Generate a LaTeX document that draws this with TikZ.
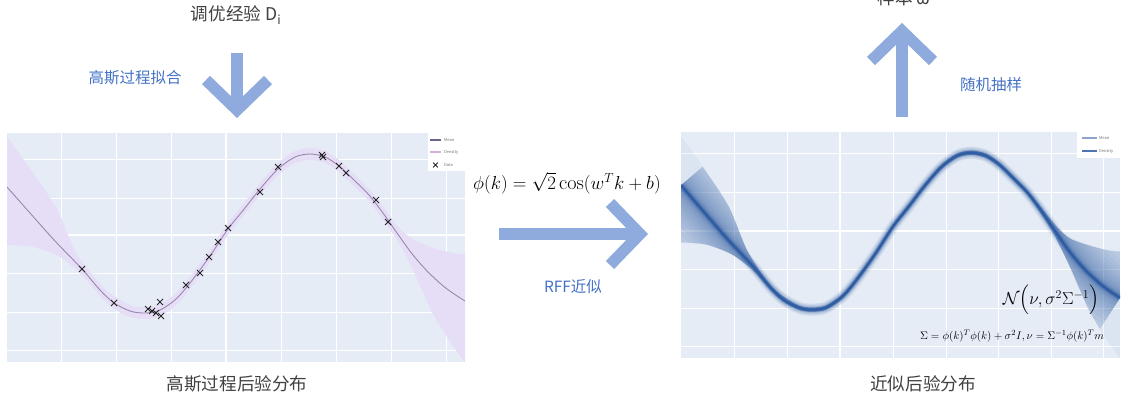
\documentclass[tikz,border=0pt]{standalone}
\usepackage{amsmath}
\usepackage{amssymb}
\usepackage{fontspec}
\newfontfamily\cjk{Noto Sans CJK SC}
\usetikzlibrary{arrows.meta,shapes.misc}
\definecolor{plotbg}{RGB}{229,236,246}
\definecolor{bandlav}{RGB}{230,221,246}
\definecolor{meanlav}{RGB}{150,138,172}
\definecolor{rffblue}{RGB}{46,92,163}
\definecolor{arrowblue}{RGB}{143,170,220}
\definecolor{labelblue}{RGB}{68,114,196}
\definecolor{titlegray}{RGB}{64,64,64}

\newcommand\gpmean{plot[smooth] coordinates {(0,54) (23,80) (48,108) (75,136) (93,157) (107,170) (123,178) (136,180) (151,178) (168,167) (183,150) (203,123) (221,96) (238,75) (253,56) (271,36) (288,24) (303,21) (318,24) (332,33) (348,48) (362,62) (376,80) (390,100) (406,122) (422,140) (440,156) (458,168)}}
\newcommand\gpband{plot[smooth] coordinates {(0,4) (26,40) (50,76) (68,118) (85,141) (100,158) (123,172) (136,174) (151,172) (168,161) (183,144) (203,117) (221,90) (238,69) (253,50) (271,30) (288,18) (303,15) (318,18) (332,27) (348,42) (362,56) (376,73) (392,95) (406,106) (426,115) (446,120) (458,121)} -- plot[smooth] coordinates {(458,229) (446,213) (426,181) (406,137) (390,107) (376,87) (362,68) (348,54) (332,39) (318,30) (303,27) (288,30) (271,42) (253,62) (238,81) (221,102) (203,129) (183,156) (168,173) (151,184) (136,186) (123,184) (107,176) (93,163) (75,142) (53,124) (26,114) (0,112)} -- cycle}
\newcommand\rffband{plot[smooth] coordinates {(0,4) (26,40) (50,76) (68,118) (85,145) (100,162) (123,176) (136,178) (151,176) (168,165) (183,148) (203,121) (221,94) (238,73) (253,54) (271,34) (288,22) (303,19) (318,22) (332,31) (348,46) (362,60) (376,77) (392,96) (406,108) (426,115) (446,120) (458,121)} -- plot[smooth] coordinates {(458,229) (446,213) (426,181) (406,137) (390,105) (376,83) (362,64) (348,50) (332,35) (318,26) (303,23) (288,26) (271,38) (253,58) (238,77) (221,98) (203,125) (183,152) (168,169) (151,180) (136,182) (123,180) (107,172) (93,160) (75,140) (53,124) (26,114) (0,112)} -- cycle}

\begin{document}
\begin{tikzpicture}[x=1pt,y=-1pt,
    graytext/.style={text=titlegray, font=\cjk\fontsize{17.6}{20}\selectfont},
    bluetext/.style={text=labelblue, font=\cjk\fontsize{15.5}{18}\selectfont},
    legtext/.style={text=black!55, font=\cjk\fontsize{4}{5}\selectfont, anchor=west, inner sep=0pt},
    gridline/.style={white, line width=0.8pt},
    zeroline/.style={white, line width=1.6pt},
    datamark/.style={cross out, draw=black!85, line width=1pt, minimum size=5pt, inner sep=0pt},
    bigarrow/.style={draw=arrowblue, line width=11.5pt, -{Straight Barb[length=30pt,width=62pt]}}]
    \useasboundingbox (0,0) rectangle (1128,398);

    % left: GP posterior
    \begin{scope}[shift={(7,133)}]
        \fill[plotbg] (0,0) rectangle (458,229);
        \foreach \gx in {54,109,164,274,329,384,439} \draw[gridline] (\gx,0) -- (\gx,229);
        \foreach \gy in {26,65,140,179,217} \draw[gridline] (0,\gy) -- (458,\gy);
        \draw[zeroline] (219,0) -- (219,229);
        \draw[zeroline] (0,102) -- (458,102);
        \begin{scope}
            \clip (0,0) rectangle (458,229);
            \fill[bandlav] \gpband;
            \draw[meanlav, line width=0.9pt] \gpmean;
        \end{scope}
        \foreach \x/\y [count=\i] in {75/136, 107/170, 141/176, 145/178, 149/180, 154/183, 153/169, 179/152, 193/140, 202/124, 211/109, 221/95, 253/59, 271/34, 315/22, 316/24, 332/33, 339/40, 369/67, 381/89}
            \node[datamark] (d\i) at (\x,\y) {};
        \fill[white] (421,0) rectangle (458,38);
        \draw[black!75!blue!60, line width=1.2pt] (423,7) -- (434,7);
        \draw[bandlav!80!violet, line width=2pt] (423,19) -- (434,19);
        \node[datamark, minimum size=4pt, line width=0.8pt] (legx) at (428.5,32) {};
        \node[legtext] (legmean) at (437,7) {Mean};
        \node[legtext] (legdens) at (437,19) {Density};
        \node[legtext] (legdata) at (437,32) {Data};
    \end{scope}

    % right: RFF posterior
    \begin{scope}[shift={(681,132)}]
        \fill[plotbg] (0,0) rectangle (439,226);
        \foreach \gx in {53,106,212,265,317,370,422} \draw[gridline] (\gx,0) -- (\gx,226);
        \foreach \gy in {21,60,137,176,214} \draw[gridline] (0,\gy) -- (439,\gy);
        \draw[zeroline] (159,0) -- (159,226);
        \draw[zeroline] (0,99) -- (439,99);
        \begin{scope}[xscale=0.9585, yscale=0.987]
            \clip (0,0) rectangle (458,229);
            \fill[rffblue, opacity=0.05] \gpband;
            \foreach \w/\o in {12/0.08, 9/0.12, 6.5/0.18, 4.5/0.3, 3/0.45}
                \draw[rffblue, line width=\w pt, opacity=\o] \gpmean;
            \draw[rffblue, line width=1.6pt] \gpmean;
            \clip \rffband;
            \foreach \w in {110,96,84,73,63,54,46,39,33,28,23,19,15}
                \draw[rffblue, line width=\w pt, opacity=0.05] \gpmean;
        \end{scope}
        \fill[white] (396,0) rectangle (439,26);
        \draw[rffblue!55, line width=1.2pt] (401,6) -- (416,6);
        \draw[rffblue!85, line width=2.6pt] (401,19) -- (416,19);
        \node[legtext] (rlegmean) at (418,6) {Mean};
        \node[legtext] (rlegdens) at (418,19) {Density};
        \node[font=\fontsize{16.5}{20}\selectfont, inner sep=0pt] (normal) at (370,168) {$\mathcal{N}\Bigl(\nu,\sigma^2\Sigma^{-1}\Bigr)$};
        \node[font=\fontsize{11.2}{14}\selectfont, inner sep=0pt] (sigma) at (331,204) {$\Sigma=\phi(k)^T\phi(k)+\sigma^2 I,\nu=\Sigma^{-1}\phi(k)^T m$};
    \end{scope}

    % labels
    \node[graytext] (tune) at (236,15) {调优经验 D\textsubscript{i}};
    \node[bluetext] (fitlbl) at (135,78) {高斯过程拟合};
    \node[graytext, anchor=base] (sample) at (904,5) {样本 ω};
    \node[bluetext] (samplelbl) at (991,85) {随机抽样};
    \node[font=\fontsize{18.5}{21}\selectfont, scale=1.09] (phi) at (567,183) {$\phi(k)=\sqrt{2}\cos(w^Tk+b)$};
    \node[bluetext] (rfflbl) at (573,287) {RFF近似};
    \node[graytext] (gppost) at (237,384) {高斯过程后验分布};
    \node[graytext] (rffpost) at (923,384) {近似后验分布};

    % arrows
    \coordinate (fitstart) at (237,53);
    \coordinate (fitend) at (237,118);
    \coordinate (rffstart) at (499,234);
    \coordinate (rffend) at (648,234);
    \coordinate (drawstart) at (902,117);
    \coordinate (drawend) at (902,23);
    \draw[bigarrow] (fitstart) -- (fitend);
    \draw[bigarrow] (rffstart) -- (rffend);
    \draw[bigarrow] (drawstart) -- (drawend);
\end{tikzpicture}
\end{document}
